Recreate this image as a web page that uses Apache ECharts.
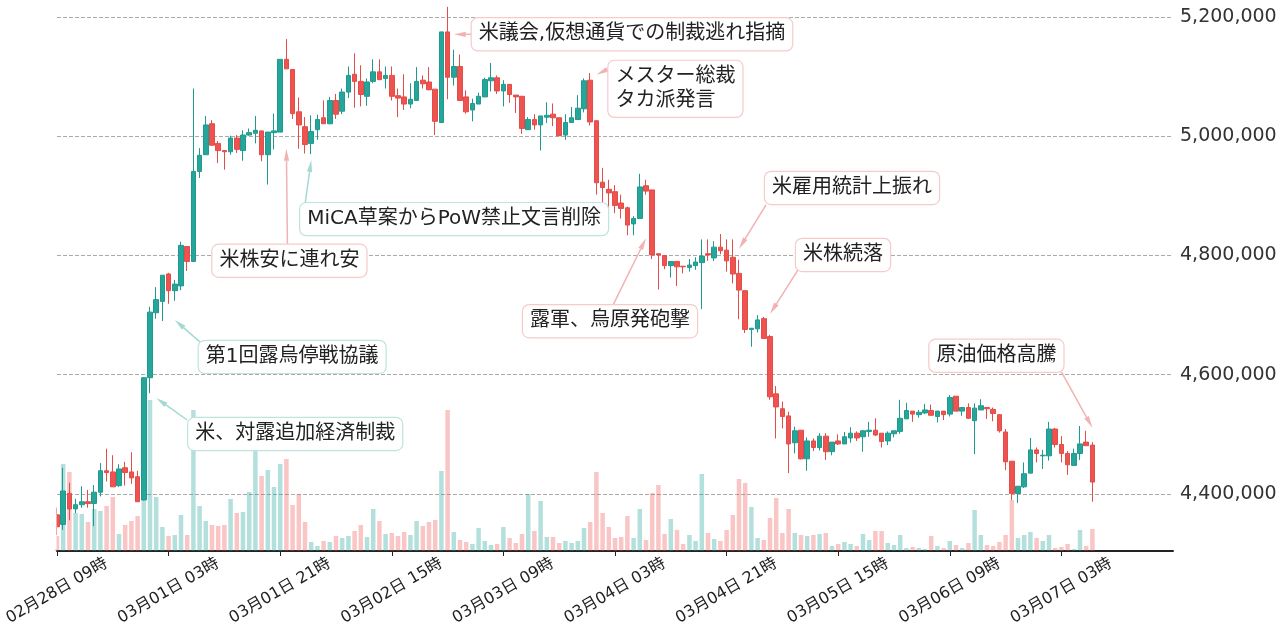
<!DOCTYPE html>
<html lang="ja">
<head>
<meta charset="utf-8">
<script src="https://cdn.jsdelivr.net/npm/echarts@6/dist/echarts.min.js"></script>
<style>html,body{margin:0;padding:0;background:#fff}#c{width:1285px;height:630px}</style>
</head>
<body>
<div id="c"></div>
<script>
// ---- data (price in JPY, hourly candles from 2022-02-28 09時) ----
const startTime = [2022, 2, 28, 9]; // year, month, day, hour
const axisHours = 181;
const labelStep = 18;
const lastLabelIndex = 162;

const openK = [4365,4349,4401,4375,4382,4387,4384,4403,4439,4437,4414,4444,4437,4429,4390,4595,4704,4723,4769,4741,
4749,4815,4790,4941,4969,5021,4988,4976,4974,4997,4976,5002,5005,5009,4969,5006,5007,5129,5112,5041,
5016,4988,5011,5031,5021,5060,5042,5074,5104,5092,5067,5092,5108,5097,5102,5068,5066,5054,5060,5094,
5091,5079,5023,5175,5099,5117,5066,5044,5054,5066,5093,5098,5076,5087,5069,5067,5011,5028,5019,5032,
5037,5031,5002,5023,5028,5046,5094,5026,4923,4911,4907,4888,4880,4853,4862,4917,4910,4803,4800,4783,
4790,4782,4780,4783,4788,4803,4796,4814,4809,4797,4770,4741,4676,4677,4694,4664,4568,4543,4531,4486,
4507,4459,4489,4478,4497,4471,4489,4484,4494,4502,4496,4505,4507,4502,4489,4501,4505,4526,4539,4533,
4536,4540,4530,4539,4534,4564,4539,4545,4523,4541,4545,4542,4533,4504,4455,4401,4412,4435,4474,4464,
4464,4509,4483,4468,4448,4468,4487,4482];
const closeK = [4345,4405,4375,4382,4387,4384,4403,4439,4436,4412,4442,4436,4427,4387,4595,4705,4726,4767,4741,4752,
4817,4790,4941,4968,5019,4985,4976,4974,4997,4978,5002,5006,5010,4969,5007,5009,5129,5113,5038,5019,
4986,5008,5028,5021,5060,5037,5074,5102,5092,5070,5091,5108,5095,5102,5067,5064,5054,5062,5092,5088,
5078,5025,5175,5099,5117,5060,5041,5055,5067,5095,5098,5076,5087,5070,5066,5013,5028,5019,5034,5035,
5031,5001,5023,5031,5047,5093,5024,4922,4914,4905,4884,4879,4851,4862,4915,4908,4801,4801,4783,4790,
4781,4781,4784,4789,4799,4801,4814,4808,4791,4769,4742,4676,4678,4692,4661,4563,4546,4530,4484,4506,
4459,4489,4478,4497,4471,4487,4484,4496,4502,4494,4506,4507,4499,4488,4502,4506,4527,4540,4534,4537,
4541,4532,4539,4533,4562,4539,4545,4527,4544,4548,4543,4535,4506,4454,4401,4413,4434,4474,4468,4465,
4509,4483,4468,4449,4468,4484,4481,4420];
const lowK = [4331,4340,4356,4368,4377,4377,4346,4396,4421,4412,4412,4414,4417,4387,4389,4569,4694,4690,4719,4724,
4742,4774,4790,4930,4969,4984,4955,4944,4969,4972,4959,5001,4988,4958,4919,4978,5007,5113,5029,4979,
4971,4970,4994,5021,5020,5029,5037,5064,5048,5050,5051,5089,5094,5080,5060,5032,5044,5047,5060,5080,
5077,5002,5022,5062,5085,5059,5038,5025,5054,5066,5075,5071,5050,5056,5039,5004,5011,5011,4976,5022,
5017,5000,4994,5023,5028,5040,5018,4902,4874,4872,4871,4862,4834,4834,4862,4902,4794,4743,4777,4763,
4749,4770,4773,4776,4710,4791,4791,4802,4773,4753,4693,4670,4647,4671,4661,4558,4493,4510,4435,4468,
4458,4439,4472,4473,4457,4465,4482,4484,4486,4489,4471,4496,4497,4478,4482,4495,4501,4526,4521,4528,
4534,4532,4520,4524,4530,4539,4531,4526,4467,4541,4526,4522,4503,4440,4390,4385,4410,4435,4453,4442,
4456,4478,4453,4432,4448,4457,4481,4387];
const highK = [4377,4444,4419,4392,4413,4407,4415,4452,4476,4465,4450,4454,4470,4439,4596,4714,4747,4767,4771,4759,
4823,4815,5080,4980,5034,5027,4992,4976,5001,5002,5010,5013,5034,5009,5007,5038,5129,5163,5112,5065,
5032,5035,5036,5060,5066,5071,5080,5117,5139,5119,5097,5129,5129,5117,5117,5080,5104,5089,5116,5102,
5116,5079,5175,5217,5145,5137,5077,5063,5073,5098,5123,5102,5094,5087,5069,5067,5032,5037,5034,5057,
5055,5031,5037,5049,5069,5097,5106,5026,4947,4927,4918,4902,4882,4866,4937,4927,4910,4803,4800,4790,
4790,4782,4794,4797,4827,4827,4824,4836,4827,4827,4793,4741,4678,4700,4697,4667,4581,4555,4538,4513,
4507,4495,4493,4502,4502,4487,4500,4504,4512,4505,4507,4521,4527,4502,4505,4506,4558,4553,4539,4541,
4551,4550,4539,4539,4566,4564,4545,4552,4552,4559,4545,4545,4534,4509,4455,4413,4453,4494,4478,4474,
4521,4511,4497,4472,4476,4514,4506,4487];
const volume = [15,87,79,38,37,29,42,40,45,54,17,26,30,35,51,151,54,24,15,16,
36,16,141,45,30,26,25,26,52,38,39,59,111,75,81,64,87,92,46,57,
29,9,5,10,9,15,13,15,20,26,14,42,30,17,18,15,19,16,30,25,
29,31,80,141,19,11,9,7,23,10,6,7,24,13,8,17,57,20,50,14,
14,8,10,8,10,23,29,79,38,24,13,14,35,13,42,11,58,66,17,32,
21,7,16,10,77,18,12,10,21,36,72,68,44,13,11,33,53,18,42,18,
16,15,16,17,18,5,7,9,7,5,17,11,20,20,8,6,16,3,4,3,
2,15,5,3,10,6,3,8,41,16,6,5,9,16,51,13,16,19,13,10,
16,3,4,7,2,21,5,22];

// events (anchor = candle index + price)
const eventText = ['米、対露追加経済制裁','第1回露烏停戦協議','米株安に連れ安','MiCA草案からPoW禁止文言削除',
  '米議会,仮想通貨での制裁逃れ指摘','メスター総裁\nタカ派発言','米雇用統計上振れ','米株続落','露軍、烏原発砲撃','原油価格高騰'];
const eventIndex = [16,19,37,41,64,87,110,115,95,167];
const eventPrice = [4561000,4692000,4979000,4960000,5171000,5103000,4811000,4702000,4829000,4511000];
const eventTone = ['teal','teal','pink','teal','pink','pink','pink','pink','pink','pink'];

// ---- layout of callouts (pixel offsets from the anchor) ----
const calloutLayout = [
  {tail:[31,22],  box:[32,20]},
  {tail:[25,22],  box:[24,21]},
  {tail:[1,96],   box:[-74,96]},
  {tail:[-6,43],  box:[-11,43]},
  {tail:[18,0],   box:[18,-16]},
  {tail:[12,-6],  box:[12,-14]},
  {tail:[27,-44], box:[26,-77]},
  {tail:[28,-44], box:[26,-75]},
  {tail:[-33,67], box:[-123,67]},
  {tail:[-31,-56],box:[-163,-88]}
];

const FONT = "'DejaVu Sans','Noto Sans CJK JP',sans-serif";
const UP = '#26a69a', DOWN = '#ef5350';
const TONE = {
  teal: {border:'#bfe4df', arrow:'#a3d9d2'},
  pink: {border:'#f6cbcb', arrow:'#f2b2b2'}
};

// categories
function pad(n){return (n<10?'0':'')+n;}
const categories = [];
for (let k = 0; k < axisHours; k++) {
  const d = new Date(Date.UTC(startTime[0], startTime[1]-1, startTime[2], startTime[3] + k));
  categories.push(pad(d.getUTCMonth()+1)+'月'+pad(d.getUTCDate())+'日 '+pad(d.getUTCHours())+'時');
}
const candleData = openK.map((o,i)=>[o*1000, closeK[i]*1000, lowK[i]*1000, highK[i]*1000]);
const volumeData = volume.map((v,i)=>({value:v, itemStyle:{color: closeK[i] >= openK[i] ? 'rgba(38,166,154,0.35)' : 'rgba(239,83,80,0.33)'}}));

const showTick = (idx) => idx % labelStep === 0 && idx <= lastLabelIndex;

const chart = echarts.init(document.getElementById('c'), null, {renderer:'canvas'});
chart.setOption({
  animation: false,
  backgroundColor: '#fff',
  textStyle: {fontFamily: FONT},
  grid: {left: 57, right: 112, top: 0, bottom: 79},
  xAxis: {
    type: 'category', data: categories, boundaryGap: false,
    axisLine: {lineStyle: {color: '#222', width: 2}},
    axisTick: {interval: showTick, length: 5, lineStyle: {color: '#222'}},
    axisLabel: {interval: showTick, rotate: 30, align: 'center', verticalAlign: 'middle', margin: 40,
      fontSize: 16, color: '#222', fontFamily: FONT},
    splitLine: {show: false}
  },
  yAxis: [{
    type: 'value', position: 'right', min: 4304400, max: 5228500, splitNumber: 4,
    axisLine: {show: false}, axisTick: {show: false},
    axisLabel: {showMinLabel: false, showMaxLabel: false, margin: 7, fontSize: 19, color: '#333', fontFamily: FONT,
      formatter: v => Math.round(v).toLocaleString('en-US')},
    splitLine: {showMinLine: false, showMaxLine: false, lineStyle: {type: 'dashed', color: '#aaa', width: 1}}
  }, {
    type: 'value', min: 0, max: 551, show: false, splitLine: {show: false}
  }],
  series: [{
    type: 'bar', yAxisIndex: 1, data: volumeData, barWidth: 4.5, z: 1
  }, {
    type: 'candlestick', data: candleData, barWidth: 5, z: 3,
    itemStyle: {color: UP, color0: DOWN, borderColor: '#1f9a8e', borderColor0: '#e24c49', borderWidth: 1}
  }]
});

// callouts
const graphics = [];
// trim the part of the first candle that falls left of the plot area
const origin = chart.convertToPixel({seriesIndex: 1}, [0, 4304400]);
graphics.push({type:'rect', z: 40, shape:{x: 0, y: 0, width: origin[0] - 0.5, height: origin[1] - 1.5},
  style:{fill:'#fff'}, silent: true});
eventText.forEach((txt, k) => {
  const tip = chart.convertToPixel({seriesIndex: 1}, [eventIndex[k], eventPrice[k]]);
  const lay = calloutLayout[k];
  const tone = TONE[eventTone[k]];
  const tail = [tip[0] + lay.tail[0], tip[1] + lay.tail[1]];
  const dx = tip[0]-tail[0], dy = tip[1]-tail[1];
  const len = Math.hypot(dx, dy) || 1;
  const ux = dx/len, uy = dy/len, L = 12, W = 2.6;
  const base = [tip[0]-ux*L, tip[1]-uy*L];
  graphics.push({type:'line', z: 50, shape:{x1:tail[0], y1:tail[1], x2:base[0], y2:base[1]},
    style:{stroke: tone.arrow, lineWidth: 1.5}});
  graphics.push({type:'polygon', z: 50, shape:{points:[tip, [base[0]-uy*W, base[1]+ux*W], [base[0]+uy*W, base[1]-ux*W]]},
    style:{fill: tone.arrow}});
  graphics.push({type:'text', z: 60, x: tip[0] + lay.box[0], y: tip[1] + lay.box[1],
    style:{text: txt, font: '20px ' + FONT, fill: '#222', align: 'left', verticalAlign: 'top',
      backgroundColor: '#fff', borderColor: tone.border, borderWidth: 1.2, borderRadius: 6,
      padding: [4, 7], lineHeight: 24}});
});
chart.setOption({graphic: graphics});
</script>
</body>
</html>
